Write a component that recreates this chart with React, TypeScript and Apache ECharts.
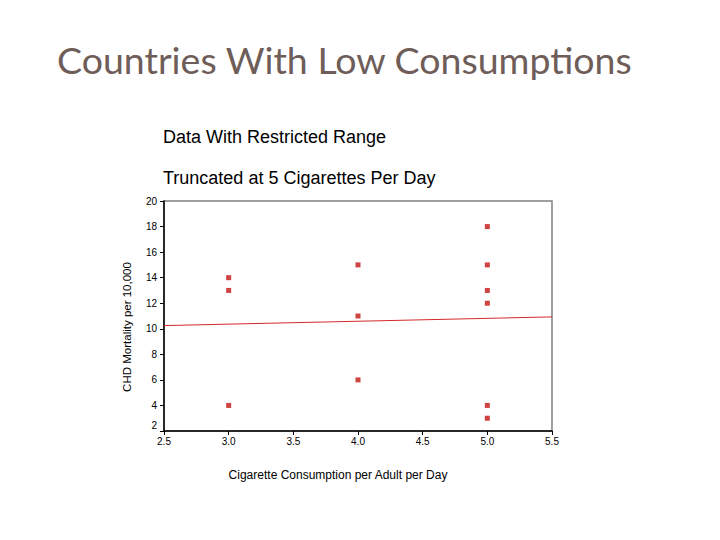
import React, { useEffect, useRef } from "react";
import * as echarts from "echarts";

const titleText = "Countries With Low Consumptions";
const subtitle1 = "Data With Restricted Range";
const subtitle2 = "Truncated at 5 Cigarettes Per Day";
const xName = "Cigarette Consumption per Adult per Day";
const yName = "CHD Mortality per 10,000";

const consumption = [3, 3, 3, 4, 4, 4, 5, 5, 5, 5, 5, 5];
const mortality = [14, 13, 4, 15, 11, 6, 18, 15, 13, 12, 4, 3];
const fitX = [2.5, 5.5];
const fitY = [10.25, 10.93];

export default function App() {
  const ref = useRef<HTMLDivElement>(null);
  useEffect(() => {
    if (!ref.current) return;
    const chart = echarts.init(ref.current, null, { renderer: "svg" });
    const scatterData = consumption.map((x, i) => [x, mortality[i]]);
    const fitData = fitX.map((x, i) => [x, fitY[i]]);
    chart.setOption({
      animation: false,
      backgroundColor: "#ffffff",
      graphic: [
        {
          type: "text",
          left: 57,
          top: 40,
          style: {
            text: titleText,
            font: "37.5px Lato, 'Open Sans', sans-serif",
            fill: "#6e5d58",
          },
        },
        {
          type: "text",
          left: 163,
          top: 128,
          style: {
            text: subtitle1,
            font: "18px 'Liberation Sans', Arial, sans-serif",
            fill: "#000000",
          },
        },
        {
          type: "text",
          left: 163,
          top: 169,
          style: {
            text: subtitle2,
            font: "18px 'Liberation Sans', Arial, sans-serif",
            fill: "#000000",
          },
        },
        {
          type: "text",
          x: 338,
          y: 475,
          style: {
            text: xName,
            font: "12px 'Liberation Sans', Arial, sans-serif",
            fill: "#000000",
            align: "center",
            verticalAlign: "middle",
          },
        },
        {
          type: "text",
          x: 127,
          y: 327,
          rotation: Math.PI / 2,
          style: {
            text: yName,
            font: "11.5px 'Liberation Sans', Arial, sans-serif",
            fill: "#000000",
            align: "center",
            verticalAlign: "middle",
          },
        },
      ],
      grid: {
        left: 164,
        right: 168,
        top: 201,
        bottom: 109,
        show: true,
        borderColor: "#808080",
        borderWidth: 1.5,
      },
      xAxis: {
        type: "value",
        min: 2.5,
        max: 5.5,
        interval: 0.5,
        axisLine: { lineStyle: { color: "#000", width: 1.5 } },
        axisTick: { show: true, length: 4, lineStyle: { color: "#000" } },
        axisLabel: {
          fontFamily: "'Liberation Sans', Arial",
          fontSize: 10,
          color: "#000",
          margin: 5,
          formatter: (v: number) => v.toFixed(1),
        },
        splitLine: { show: false },
      },
      yAxis: {
        type: "value",
        min: 2,
        max: 20,
        interval: 2,
        axisLine: { show: true, lineStyle: { color: "#000", width: 1.5 } },
        axisTick: { show: true, length: 4, lineStyle: { color: "#000" } },
        axisLabel: {
          fontFamily: "'Liberation Sans', Arial",
          fontSize: 10,
          color: "#000",
          margin: 7,
          formatter: (v: number) => (v === 2 ? "{b|2}" : String(v)),
          rich: {
            b: { fontFamily: "'Liberation Sans', Arial", fontSize: 10, color: "#000", padding: [0, 0, 12, 0] },
          },
        },
        splitLine: { show: false },
      },
      series: [
        {
          type: "line",
          data: fitData,
          symbol: "none",
          lineStyle: { color: "#d42a2a", width: 1 },
          z: 2,
        },
        {
          type: "scatter",
          data: scatterData,
          symbol: "rect",
          symbolSize: 5,
          itemStyle: { color: "#c41414" },
          z: 3,
        },
      ],
    });
    return () => chart.dispose();
  }, []);
  return <div ref={ref} style={{ position: "fixed", left: 0, top: 0, width: 720, height: 540 }} />;
}
